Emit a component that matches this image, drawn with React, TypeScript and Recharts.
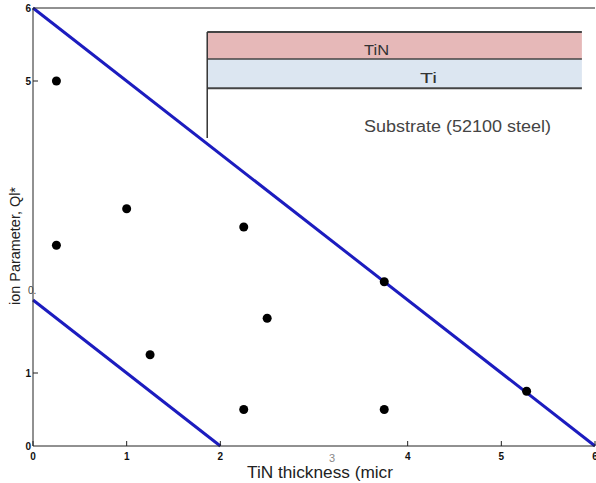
import { ComposedChart, Line, Scatter, XAxis, YAxis, ReferenceArea, ReferenceLine } from "recharts";

// measured points
const pointX = [0.25, 0.25, 1.0, 1.25, 2.25, 2.5, 2.25, 3.75, 3.75, 5.27];
const pointY = [5.0, 2.75, 3.25, 1.25, 3.0, 1.75, 0.5, 0.5, 2.25, 0.75];

// boundary lines
const upperX = [0, 6];
const upperY = [6, 0];
const lowerX = [0, 2];
const lowerY = [2, 0];

// axis ticks
const xTicks = [0, 1, 2, 3, 4, 5, 6];
const xTickLabels = ["0", "1", "2", "3", "4", "5", "6"];
const yTicks = [0, 1, 2, 3, 4, 5, 6];
const yTickLabels = ["0", "1", "0.", "", "", "5", "6"];

// coating layer sketch (data units)
const layerX = [1.86, 5.86];
const tinBand = [5.3, 5.67];
const tiBand = [4.9, 5.3];
const substrateBottom = 4.22;

const points = pointX.map((x, i) => ({ x, y: pointY[i] }));
const upper = upperX.map((x, i) => ({ x, y: upperY[i] }));
const lower = lowerX.map((x, i) => ({ x, y: lowerY[i] }));

const BLUE = "#1c1cbf";
const font = "'Liberation Sans', Arial, sans-serif";

const XTick = (props: any) => {
  const { x, y, payload } = props;
  const i = xTicks.indexOf(payload.value);
  const faint = payload.value === 3;
  return (
    <g>
      {!faint && <line x1={x} x2={x} y1={y} y2={y - 5} stroke="#222" />}
      <text x={x + (faint ? 18 : 0)} y={y + (faint ? 16 : 14)} textAnchor="middle" fontSize={faint ? 11 : 10} fontWeight={faint ? 400 : 700} fill={faint ? "#888" : "#111"} fontFamily={font}>
        {xTickLabels[i]}
      </text>
    </g>
  );
};

const YTick = (props: any) => {
  const { x, y, payload } = props;
  const i = yTicks.indexOf(payload.value);
  const label = yTickLabels[i];
  const showLine = payload.value === 1 || payload.value === 5;
  const odd = payload.value === 2;
  return (
    <g>
      {showLine && <line x1={x} x2={x + 5} y1={y} y2={y} stroke="#222" />}
      <text x={odd ? x - 5 : x - 2} y={y + (odd ? -6 : 4)} textAnchor={odd ? "start" : "end"} fontSize={10} fontWeight={odd ? 400 : 700} fill={odd ? "#444" : "#111"} fontFamily={font}>
        {label}
      </text>
    </g>
  );
};

const NoTick = () => <g />;

const XLabel = (props: any) => {
  const vb = props.viewBox;
  return (
    <text x={vb.x + vb.width / 2 + 6} y={vb.y + 32} textAnchor="middle" fontSize={16} fill="#222" fontFamily={font} textLength={146} lengthAdjust="spacingAndGlyphs">
      TiN thickness (micr
    </text>
  );
};

const YLabel = (props: any) => {
  const vb = props.viewBox;
  const cx = 20;
  const cy = vb.y + 238;
  return (
    <text x={cx} y={cy} transform={`rotate(-90 ${cx} ${cy})`} textAnchor="middle" fontSize={14} fill="#222" fontFamily={font} textLength={118} lengthAdjust="spacingAndGlyphs">
      ion Parameter, Ql*
    </text>
  );
};

const areaText = (value: string, dx: number, dy: number, size: number, len: number, color: string) => (props: any) => {
  const vb = props.viewBox;
  const cx = vb.x + vb.width / 2 + dx;
  const cy = vb.y + vb.height / 2 + dy;
  return (
    <text x={cx} y={cy} textAnchor="middle" dominantBaseline="central" fontSize={size} fill={color} fontFamily={font} textLength={len} lengthAdjust="spacingAndGlyphs">
      {value}
    </text>
  );
};

export default function App() {
  return (
    <div style={{ position: "absolute", left: 0, top: 0, background: "#fff" }}>
      <ComposedChart width={596} height={483} margin={{ top: 7, right: 0, bottom: 0, left: 0 }}>
        <XAxis xAxisId="b" type="number" dataKey="x" domain={[0, 6]} ticks={xTicks} height={37} stroke="#222" tickLine={false} tickSize={0} tickMargin={0} tick={<XTick />} interval={0}
          label={<XLabel />} />
        <XAxis xAxisId="t" orientation="top" type="number" dataKey="x" domain={[0, 6]} ticks={xTicks} height={1} stroke="#222" tick={<NoTick />} tickSize={-5} interval={0} />
        <YAxis yAxisId="l" type="number" dataKey="y" domain={[0, 6]} ticks={yTicks} width={33} stroke="#222" tickLine={false} tickSize={0} tickMargin={0} tick={<YTick />} interval={0}
          label={<YLabel />} />
        <YAxis yAxisId="r" orientation="right" type="number" dataKey="y" domain={[0, 6]} ticks={yTicks} width={1} stroke="#222" axisLine={false} tick={<NoTick />} tickSize={-5} interval={0} />

        <ReferenceArea xAxisId="b" yAxisId="l" x1={layerX[0]} x2={layerX[1]} y1={tinBand[0]} y2={tinBand[1]} fill="#e6b8b8" fillOpacity={1} stroke="none"
          label={areaText("TiN", -18, 4, 15, 25, "#333")} />
        <ReferenceArea xAxisId="b" yAxisId="l" x1={layerX[0]} x2={layerX[1]} y1={tiBand[0]} y2={tiBand[1]} fill="#dce6f1" fillOpacity={1} stroke="none"
          label={areaText("Ti", 34, 4, 15, 17, "#333")} />
        <ReferenceArea xAxisId="b" yAxisId="l" x1={layerX[0]} x2={layerX[1]} y1={substrateBottom} y2={tiBand[0]} fillOpacity={0} stroke="none"
          label={areaText("Substrate (52100 steel)", 63, 13, 16, 187, "#444")} />
        <ReferenceLine xAxisId="b" yAxisId="l" segment={[{ x: layerX[0], y: tinBand[1] }, { x: layerX[1], y: tinBand[1] }]} stroke="#444" strokeWidth={2} />
        <ReferenceLine xAxisId="b" yAxisId="l" segment={[{ x: layerX[0], y: tinBand[0] }, { x: layerX[1], y: tinBand[0] }]} stroke="#444" strokeWidth={1.5} />
        <ReferenceLine xAxisId="b" yAxisId="l" segment={[{ x: layerX[0], y: tiBand[0] }, { x: layerX[1], y: tiBand[0] }]} stroke="#444" strokeWidth={2} />
        <ReferenceLine xAxisId="b" yAxisId="l" segment={[{ x: layerX[0], y: substrateBottom }, { x: layerX[0], y: tinBand[1] }]} stroke="#333" strokeWidth={1.5} />

        <Line xAxisId="b" yAxisId="l" data={upper} dataKey="y" type="linear" stroke={BLUE} strokeWidth={3} dot={false} isAnimationActive={false} />
        <Line xAxisId="b" yAxisId="l" data={lower} dataKey="y" type="linear" stroke={BLUE} strokeWidth={3} dot={false} isAnimationActive={false} />
        <Scatter xAxisId="b" yAxisId="l" data={points} dataKey="y" fill="#000" isAnimationActive={false}
          shape={(p: any) => <circle cx={p.cx} cy={p.cy} r={4.5} fill="#000" />} />
      </ComposedChart>
    </div>
  );
}
